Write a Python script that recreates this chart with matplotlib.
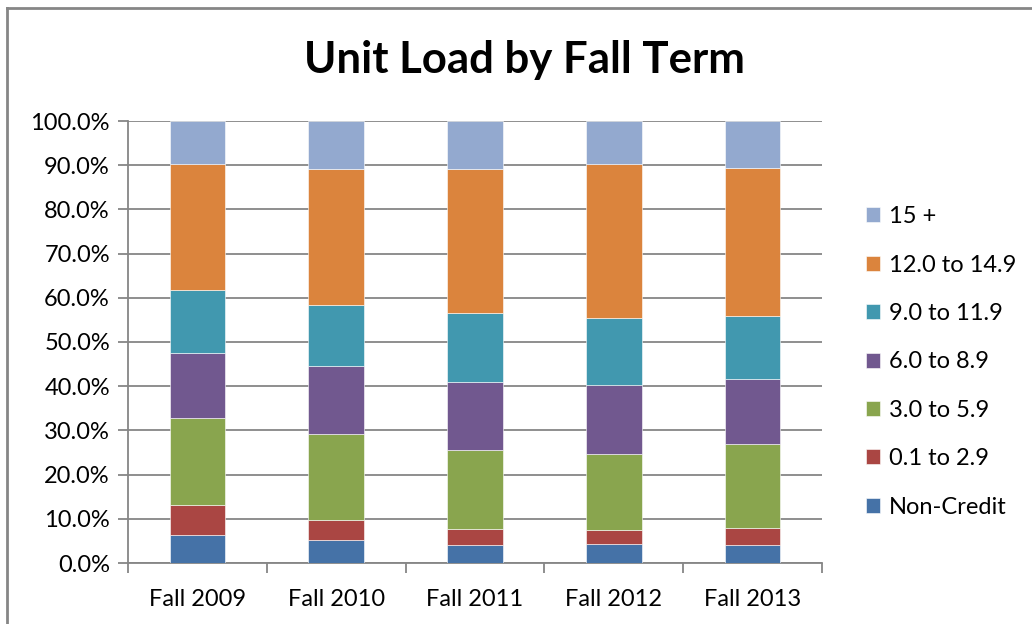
import numpy as np
import matplotlib.pyplot as plt
from matplotlib.lines import Line2D

plt.rcParams['font.family'] = ['Lato', 'DejaVu Sans']

terms = ["Fall 2009", "Fall 2010", "Fall 2011", "Fall 2012", "Fall 2013"]

# share of students (%) per unit-load band, bottom to top
non_credit = [6.3, 5.1, 4.1, 4.3, 4.1]
u01_29 = [6.9, 4.6, 3.5, 3.1, 3.9]
u30_59 = [19.6, 19.4, 18.0, 17.3, 19.0]
u60_89 = [14.7, 15.4, 15.3, 15.6, 14.7]
u90_119 = [14.3, 13.9, 15.6, 15.1, 14.1]
u120_149 = [28.4, 30.7, 32.6, 34.8, 33.6]
u15_plus = [9.8, 10.9, 10.9, 9.8, 10.6]

series = [non_credit, u01_29, u30_59, u60_89, u90_119, u120_149, u15_plus]
labels = ["Non-Credit", "0.1 to 2.9", "3.0 to 5.9", "6.0 to 8.9",
          "9.0 to 11.9", "12.0 to 14.9", "15 +"]
colors = ["#4572A7", "#AA4643", "#89A54E", "#71588F",
          "#4198AF", "#DB843D", "#93A9CF"]

fig = plt.figure(figsize=(10.32, 6.24), dpi=100)
ax = fig.add_axes([128/1032, 61/624, 694/1032, 442/624])

x = np.arange(len(terms))
bottom = np.zeros(len(terms))
handles = []
for vals, lab, col in zip(series, labels, colors):
    vals = np.array(vals)
    b = ax.bar(x, vals, 0.4, bottom=bottom, color=col, label=lab,
               edgecolor='white', linewidth=0.4, zorder=3)
    bottom += vals
    handles.append(b)

ax.set_xlim(-0.5, 4.5)
ax.set_ylim(0, 100)
ax.set_yticks(np.arange(0, 101, 10))
ax.set_yticklabels([f"{v:.1f}%" for v in np.arange(0, 101, 10)], fontsize=17)
ax.set_xticks(x)
ax.set_xticklabels(terms, fontsize=17)
ax.tick_params(axis='x', length=0, pad=19)
ax.set_xticks(np.arange(-0.5, 5, 1), minor=True)
ax.tick_params(axis='x', which='minor', length=7, color='#868686', width=1.3)
ax.tick_params(axis='y', length=7, color='#868686', width=1.3, pad=6)
ax.yaxis.grid(True, color='#868686', linewidth=1.3, zorder=0)
for s in ['top', 'right']:
    ax.spines[s].set_visible(False)
for s in ['left', 'bottom']:
    ax.spines[s].set_color('#868686')
    ax.spines[s].set_linewidth(1.3)

leg = fig.legend(handles[::-1], labels[::-1], loc='upper left',
                 bbox_to_anchor=(845/1032, 1 - 185/624), frameon=False,
                 fontsize=17, handlelength=0.6, handleheight=0.6,
                 handletextpad=0.35, labelspacing=1.16)

fig.text(525/1032, 1 - 60/624, "Unit Load by Fall Term", fontsize=31.5,
         fontweight='bold', ha='center', va='center')

# chart frame (only top and left edges are inside the picture)
fig.add_artist(Line2D([7/1032, 7/1032], [0, 1 - 8/624], color='#868686',
                      linewidth=2, transform=fig.transFigure))
fig.add_artist(Line2D([7/1032, 1], [1 - 8/624, 1 - 8/624], color='#868686',
                      linewidth=2, transform=fig.transFigure))

fig.savefig("out.png", dpi=100)
